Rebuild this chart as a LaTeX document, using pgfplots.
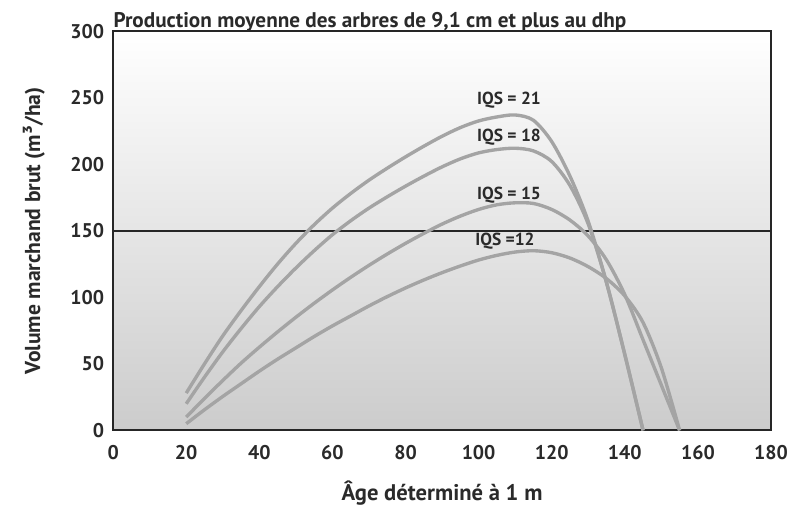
\documentclass[border=0pt]{standalone}
\usepackage{fontspec}
\setmainfont{PT Sans}
\usepackage{pgfplots}
\pgfplotsset{compat=1.18}
\definecolor{curve}{HTML}{A4A4A4}
\definecolor{txt}{HTML}{2A2A2A}
\begin{document}
\begin{tikzpicture}
\begin{axis}[
  name=ax,
  width=332pt, height=201.5pt, scale only axis,
  xmin=0, xmax=180, ymin=0, ymax=300,
  xtick={0,20,...,180}, ytick={0,50,...,300},
  major tick length=0pt,
  axis line style={black!85, line width=1pt},
  axis background/.style={top color=white, bottom color=black!20},
  tick label style={font=\bfseries\fontsize{10}{12}\selectfont, text=txt},
  /pgf/number format/assume math mode=true,
  xticklabel style={yshift=-4pt},
  yticklabel style={xshift=-1pt},
  xlabel={Âge déterminé à 1 m},
  ylabel={Volume marchand brut (m³/ha)},
  xlabel style={font=\bfseries\fontsize{11.4}{13}\selectfont, text=txt, yshift=-4pt},
  ylabel style={font=\bfseries\fontsize{10.9}{13}\selectfont, text=txt, yshift=6pt},
]
\addplot[black!85, line width=0.8pt] coordinates {(0,150) (180,150)};
% IQS = 21
\addplot[curve, line width=1.7pt, smooth] coordinates {
(20,28) (25,50) (30,71) (35,90) (40,108) (45,125) (50,140.5) (55,154.5) (60,167) (65,178) (70,188) (75,197) (80,205.5) (85,213.5) (90,221) (95,227.5) (100,232.5) (105,235.5) (110,237) (115,233) (120,217) (125,191) (130,157) (135,111) (140,57) (145,0)};
% IQS = 18
\addplot[curve, line width=1.7pt, smooth] coordinates {
(20,20) (25,40) (30,59) (35,76.5) (40,93) (45,108) (50,122) (55,135) (60,147) (65,157.5) (70,167) (75,175.5) (80,183.5) (85,191) (90,198) (95,204) (100,208.5) (105,211) (110,212) (115,210) (120,202) (125,184) (130,155) (135,111) (140,57) (145,0)};
% IQS = 15
\addplot[curve, line width=1.7pt, smooth] coordinates {
(20,10) (25,24) (30,37.5) (35,50.5) (40,62.5) (45,74) (50,85) (55,95.5) (60,105.5) (65,115) (70,124) (75,132.5) (80,140.5) (85,148) (90,155) (95,161) (100,166) (105,169.5) (110,171) (115,170.5) (120,166) (125,158) (130,146) (135,128) (140,102) (145,68) (150,34) (155,0)};
% IQS = 12
\addplot[curve, line width=1.7pt, smooth] coordinates {
(20,5) (25,15.5) (30,25.5) (35,35) (40,44.5) (45,53.5) (50,62) (55,70.5) (60,78.5) (65,86) (70,93.5) (75,100.5) (80,107) (85,113) (90,118.5) (95,123.5) (100,128) (105,131.5) (110,134) (115,135) (120,133.5) (125,129.5) (130,123) (135,114) (140,101) (145,81) (150,47) (155,0)};
\begin{scope}[every node/.style={font=\bfseries\fontsize{8.8}{10}\selectfont, text=txt}]
\node at (axis cs:108.3,248) {IQS = 21};
\node at (axis cs:108.3,220) {IQS = 18};
\node at (axis cs:108.3,177) {IQS = 15};
\node[anchor=west, inner sep=0pt] at (axis cs:99,142) {IQS =12};
\end{scope}
\end{axis}
\node[anchor=base west, inner sep=0pt, font=\bfseries\fontsize{10.7}{12}\selectfont, text=txt] at ([yshift=2pt]ax.north west) {Production moyenne des arbres de 9,1 cm et plus au dhp};
\pgfresetboundingbox
\path[use as bounding box] ([xshift=-57.1pt, yshift=-40.4pt]ax.south west) rectangle ([xshift=10.1pt, yshift=15.7pt]ax.north east);
\end{tikzpicture}
\end{document}
